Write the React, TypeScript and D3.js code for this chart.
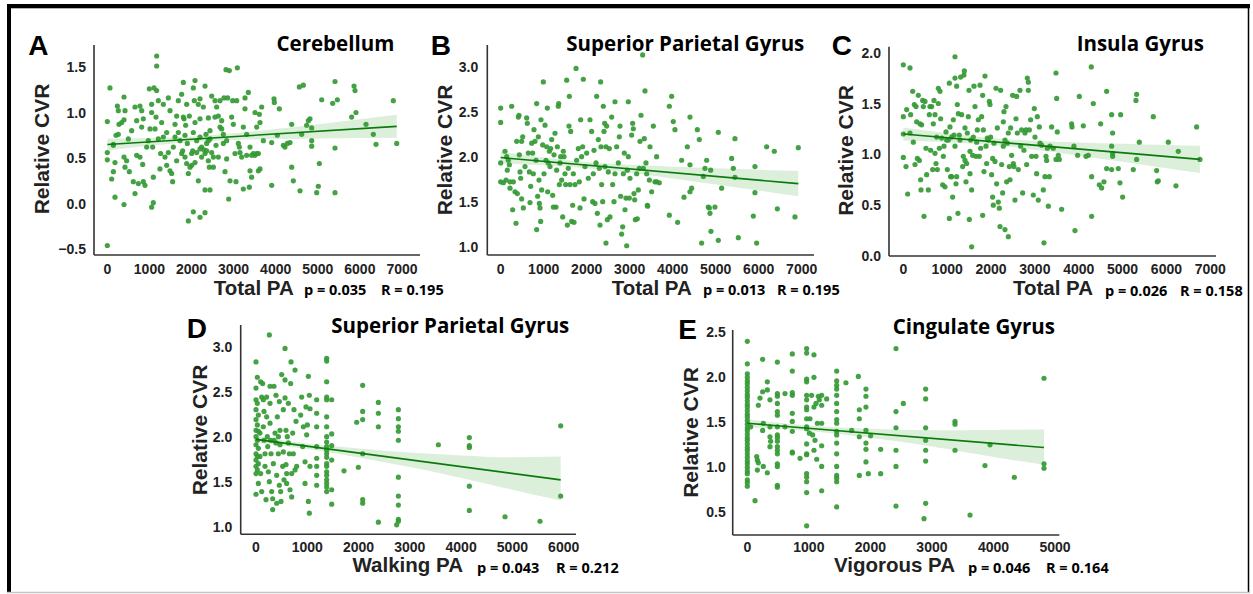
import React from 'react';
import * as d3 from 'd3';

type Pt = [number, number];
type Band = [number, number, number];

// ---------- data ----------
const ptsA: Pt[] = [
[0,-0.46],[63,1.27],[0,0.90],[0,0.56],[0,0.48],[143,0.65],[143,0.64],[103,0.27],[143,0.35],[182,0.07],[182,0.45],[206,0.75],[261,0.76],[238,1.07],[261,1.02],[277,0.87],[341,0.89],[396,1.17],[420,1.02],[396,0.92],[396,0.51],[420,0.40],[396,-0.01],[459,0.47],[499,0.71],[523,0.35],[578,0.80],[618,0.24],[657,0.11],[657,1.06],[697,0.91],[697,0.53],[737,0.22],[776,1.07],[776,0.51],[816,0.84],[816,1.02],[840,0.43],[855,0.24],[895,0.20],[855,0.93],[935,0.62],[974,0.69],[1014,0.82],[1053,1.00],[1053,1.09],[998,1.26],[1077,0.62],[1093,0.29],[1109,1.27],[1133,0.82],[1156,0.95],[1172,1.62],[1172,1.24],[1212,1.13],[1212,0.71],[1251,0.38],[1267,0.55],[1053,-0.04],[1093,0.01],[1291,0.89],[1331,1.09],[1331,0.73],[1370,0.51],[1172,1.51],[1410,0.78],[1410,0.42],[1449,0.56],[1449,1.16],[1489,1.02],[1489,0.36],[1529,0.33],[1552,0.24],[1568,0.62],[1608,0.87],[1608,0.73],[1647,0.96],[1647,0.47],[1687,0.78],[1687,1.13],[1727,0.69],[1766,0.55],[1790,0.58],[1806,1.33],[1845,0.75],[1861,0.86],[1885,1.09],[1901,0.66],[1925,0.33],[1948,0.96],[1964,0.40],[2004,0.55],[2028,0.58],[2043,0.78],[2067,1.13],[2083,0.89],[2123,0.69],[2162,0.25],[2202,0.73],[2202,0.93],[2241,0.51],[2281,1.06],[2321,1.29],[2344,0.76],[2360,0.66],[2400,0.47],[2400,0.94],[2424,0.40],[2439,0.80],[2479,1.18],[2519,0.51],[2558,0.95],[2582,0.64],[2637,0.51],[2677,1.13],[2717,0.82],[2756,0.66],[2796,0.35],[2835,0.69],[1766,1.20],[1925,-0.19],[2043,-0.09],[2202,-0.15],[2321,-0.10],[2321,0.15],[2439,0.15],[2043,1.27],[2083,1.35],[2162,1.09],[2202,1.15],[1806,0.95],[1822,0.93],[1845,0.51],[1885,0.44],[2004,0.42],[2083,0.45],[2123,0.56],[2202,0.60],[2241,0.62],[2297,0.59],[2321,0.55],[2360,0.58],[2400,0.69],[2439,0.71],[2479,0.56],[2519,0.40],[2558,1.13],[2598,1.06],[2637,0.96],[2677,0.84],[2717,0.91],[2756,0.76],[2772,1.16],[2820,1.47],[2899,1.46],[2835,0.49],[2859,1.16],[2883,0.05],[2915,0.25],[2954,0.95],[2978,1.13],[2994,0.87],[3033,0.55],[3057,0.24],[3073,1.13],[3089,1.49],[3113,0.66],[3136,0.62],[3152,0.56],[3192,0.51],[3231,0.84],[3271,1.04],[3271,1.16],[3311,0.53],[3311,0.76],[3231,0.16],[3374,0.18],[3390,0.62],[3429,0.53],[3469,0.55],[3509,0.53],[3548,0.55],[3588,0.55],[3548,0.84],[3350,1.22],[3390,0.36],[3429,0.29],[3509,1.00],[3612,0.98],[3627,0.89],[3667,1.06],[3588,0.36],[3627,0.38],[3707,0.69],[3905,0.20],[3905,0.67],[3960,1.15],[3968,1.11],[4039,0.75],[4087,1.04],[4182,0.64],[4221,0.62],[4277,0.66],[4340,0.67],[4380,0.87],[4380,0.40],[4419,0.25],[4562,1.28],[4657,1.30],[4578,0.14],[4617,0.76],[4736,0.86],[4776,0.91],[4815,0.93],[4855,0.83],[4855,0.69],[4855,0.63],[4974,0.12],[5013,0.19],[5037,0.44],[5093,1.14],[5354,1.10],[5409,1.34],[5465,1.14],[5409,0.61],[5409,0.12],[5805,0.95],[5861,1.29],[5885,1.24],[5908,1.00],[6146,0.87],[6320,0.76],[6384,0.65],[6795,1.13],[6875,0.66]
];

const ptsB: Pt[] = [
[0,2.54],[0,2.38],[0,1.93],[0,1.72],[62,1.71],[101,2.06],[124,1.74],[140,2.00],[155,1.85],[178,1.96],[202,1.91],[217,1.72],[217,1.65],[256,2.56],[279,1.41],[295,1.72],[333,1.61],[357,1.26],[372,2.17],[388,1.59],[411,2.44],[426,2.46],[434,2.02],[450,1.83],[465,1.76],[488,2.17],[488,1.53],[512,2.22],[527,1.43],[566,1.89],[605,2.43],[620,2.37],[643,2.04],[667,1.83],[682,1.49],[698,1.67],[721,2.15],[744,2.04],[760,1.81],[775,2.30],[798,2.17],[822,1.96],[837,2.59],[837,1.19],[860,1.56],[876,2.22],[891,1.74],[899,1.48],[915,1.43],[930,1.28],[938,2.41],[953,1.63],[977,2.13],[992,2.83],[1008,1.81],[1031,2.35],[1054,1.96],[1070,2.11],[1085,2.54],[1093,1.61],[1108,1.93],[1132,2.06],[1147,1.89],[1163,2.09],[1186,2.19],[1209,1.57],[1225,1.44],[1240,2.02],[1263,2.26],[1287,1.44],[1302,1.85],[1318,2.11],[1341,2.56],[1349,2.59],[1364,1.69],[1380,1.93],[1395,2.00],[1418,1.74],[1442,1.33],[1457,2.06],[1473,2.00],[1496,1.81],[1511,1.69],[1535,2.85],[1550,1.24],[1573,1.87],[1589,2.34],[1597,2.67],[1612,1.69],[1628,2.28],[1651,1.28],[1674,1.46],[1690,1.81],[1705,1.27],[1728,1.69],[1752,2.98],[1767,1.96],[1806,2.09],[1829,1.72],[1845,1.43],[1860,2.41],[1883,2.00],[1907,2.11],[1922,2.86],[1938,1.53],[1961,1.89],[2000,2.04],[2038,1.76],[2077,2.41],[2116,2.28],[2139,1.50],[2155,1.81],[2170,2.07],[2193,1.48],[2217,1.93],[2232,2.67],[2248,1.37],[2271,2.19],[2294,1.87],[2310,1.24],[2325,2.83],[2333,2.11],[2348,1.69],[2372,1.50],[2387,2.56],[2403,2.28],[2418,2.37],[2426,1.89],[2449,1.04],[2449,2.11],[2465,2.34],[2480,1.30],[2503,1.83],[2527,2.09],[2542,1.33],[2581,2.44],[2604,1.69],[2635,1.50],[2658,2.61],[2658,1.81],[2697,2.11],[2736,1.93],[2759,2.22],[2775,2.34],[2790,1.56],[2813,1.14],[2837,1.22],[2852,1.81],[2875,2.04],[2891,1.41],[2914,1.54],[2930,1.01],[2945,1.85],[2968,2.00],[2968,2.61],[2992,1.54],[3007,1.76],[3046,2.24],[3069,2.37],[3085,2.31],[3100,1.59],[3116,1.52],[3131,1.30],[3162,1.81],[3178,1.31],[3201,1.63],[3224,1.87],[3240,2.17],[3263,2.46],[3302,3.13],[3317,1.87],[3340,2.20],[3356,2.73],[3379,1.93],[3395,1.81],[3410,1.46],[3418,1.45],[3457,1.74],[3472,2.11],[3511,1.61],[3550,2.34],[3588,1.72],[3627,1.72],[3627,2.00],[3689,1.71],[3922,2.56],[3976,2.67],[4014,2.39],[4053,2.30],[3922,1.35],[4115,1.27],[4208,1.96],[4263,1.55],[4340,2.11],[4402,1.61],[4441,1.65],[4402,1.91],[4402,2.44],[4573,2.30],[4619,2.19],[4673,1.04],[4712,1.78],[4751,1.87],[4790,1.96],[4828,1.44],[4852,1.43],[4867,1.37],[4883,1.85],[4890,1.17],[4983,1.44],[5061,1.07],[5061,2.27],[5138,1.65],[5371,1.98],[5410,1.87],[5448,2.20],[5448,1.77],[5526,1.10],[5875,1.34],[5913,1.89],[5913,1.60],[5952,1.04],[6185,2.11],[6363,2.06],[6433,1.42],[6843,1.33],[6921,2.10]
];

const ptsC: Pt[] = [
[0,1.88],[0,1.37],[0,1.20],[0,0.97],[61,0.88],[76,1.44],[99,0.61],[152,1.85],[152,1.21],[167,1.39],[213,1.62],[228,1.12],[251,1.49],[266,0.90],[289,1.47],[304,1.32],[319,0.96],[342,1.58],[365,0.94],[380,1.30],[395,0.75],[403,0.65],[418,1.29],[441,1.53],[456,1.47],[471,0.39],[494,1.52],[517,1.06],[532,0.80],[570,0.65],[593,1.39],[608,1.47],[623,1.04],[646,1.47],[669,0.85],[684,1.30],[699,1.53],[722,1.01],[722,1.39],[745,0.91],[760,1.17],[775,0.85],[798,1.50],[798,1.65],[821,1.06],[836,1.62],[851,1.35],[874,1.16],[897,0.70],[912,0.98],[927,1.08],[950,0.68],[973,1.22],[988,1.14],[1003,0.85],[1026,1.14],[1049,0.37],[1049,1.70],[1064,1.27],[1079,0.78],[1102,0.78],[1102,1.17],[1125,0.58],[1140,1.34],[1155,1.19],[1178,1.96],[1178,1.75],[1178,1.08],[1201,0.71],[1216,1.67],[1216,0.78],[1231,1.49],[1246,0.42],[1254,1.40],[1277,1.19],[1292,1.14],[1307,1.76],[1330,1.39],[1353,0.88],[1368,0.98],[1383,1.78],[1391,1.82],[1406,1.26],[1406,0.94],[1429,0.73],[1444,0.91],[1459,1.21],[1482,1.37],[1497,1.63],[1505,0.36],[1520,1.03],[1520,0.81],[1535,1.14],[1558,0.09],[1558,0.65],[1581,0.99],[1596,1.17],[1611,1.67],[1634,1.47],[1657,0.98],[1672,1.12],[1687,1.24],[1710,1.34],[1733,0.98],[1748,1.68],[1763,1.06],[1786,1.37],[1809,0.40],[1809,1.58],[1824,1.24],[1839,0.83],[1862,1.77],[1885,1.08],[1900,0.91],[1915,1.16],[1938,1.14],[1961,1.52],[1976,1.49],[1991,1.17],[2014,0.80],[2037,0.96],[2037,0.58],[2052,0.50],[2067,1.11],[2090,0.93],[2113,1.65],[2128,0.71],[2143,1.26],[2166,0.53],[2189,0.47],[2204,0.29],[2219,1.63],[2242,0.90],[2265,0.62],[2280,1.32],[2280,1.08],[2295,1.42],[2318,0.26],[2318,1.14],[2341,1.47],[2356,0.73],[2371,1.11],[2394,0.19],[2394,1.21],[2417,0.88],[2432,0.75],[2447,1.26],[2470,0.99],[2493,1.58],[2508,0.91],[2523,0.88],[2546,0.55],[2569,1.35],[2584,1.57],[2599,1.21],[2622,0.85],[2660,1.63],[2675,1.08],[2698,1.24],[2721,0.62],[2751,1.04],[2774,1.21],[2797,1.24],[2812,0.90],[2827,1.75],[2850,1.63],[2850,1.71],[2873,1.24],[2903,1.34],[2926,0.98],[2964,0.60],[2987,1.45],[3002,1.17],[3025,0.98],[3040,0.81],[3055,1.37],[3078,0.55],[3101,1.27],[3116,1.11],[3154,1.09],[3192,0.65],[3207,0.13],[3230,0.78],[3253,0.98],[3268,0.94],[3283,1.06],[3306,0.49],[3329,0.78],[3344,1.08],[3382,1.27],[3420,1.06],[3481,1.80],[3481,0.95],[3496,1.55],[3511,1.22],[3534,0.99],[3557,0.95],[3610,0.46],[3838,1.30],[3846,1.27],[3891,1.08],[3914,0.25],[3975,0.99],[4013,1.57],[4104,1.28],[4165,0.98],[4218,0.99],[4286,1.86],[4294,0.39],[4294,0.78],[4332,1.50],[4469,0.70],[4499,1.30],[4522,0.67],[4575,0.73],[4636,1.62],[4636,0.86],[4750,0.85],[4750,1.39],[4773,1.21],[4750,1.08],[4773,1.01],[4773,0.98],[4902,0.86],[4940,0.72],[4955,1.39],[5001,0.58],[5244,0.85],[5305,1.53],[5320,1.59],[5320,0.95],[5381,1.12],[5700,1.37],[5776,0.84],[5791,0.73],[5814,0.74],[6042,1.12],[6217,0.69],[6270,1.03],[6688,1.27],[6764,0.95]
];

const ptsD: Pt[] = [
[0,2.83],[0,2.54],[26,2.66],[0,2.41],[26,2.37],[0,2.30],[46,2.24],[0,2.19],[26,2.13],[0,2.07],[46,2.06],[0,2.00],[26,1.96],[0,1.91],[46,1.87],[0,1.81],[26,1.78],[0,1.74],[46,1.70],[0,1.67],[26,1.63],[0,1.59],[0,1.36],[46,1.48],[91,2.61],[111,2.44],[78,2.04],[78,1.78],[91,1.59],[111,1.39],[130,2.59],[143,2.41],[156,2.28],[143,2.11],[156,1.96],[176,1.81],[176,1.67],[195,1.30],[208,2.44],[208,2.22],[221,2.00],[228,1.89],[241,1.61],[260,3.13],[260,1.50],[273,2.56],[273,2.37],[273,2.15],[286,1.96],[293,1.81],[306,1.39],[325,1.31],[325,1.19],[338,1.70],[351,1.96],[351,2.56],[371,2.04],[390,2.46],[390,1.93],[403,1.26],[403,1.57],[416,2.22],[436,2.00],[436,1.81],[455,2.39],[455,1.46],[468,2.07],[468,1.91],[481,1.39],[488,1.28],[501,2.69],[520,1.67],[533,2.30],[533,1.83],[546,1.52],[566,2.98],[566,2.63],[566,2.43],[585,2.07],[585,1.69],[598,1.59],[598,1.48],[611,2.00],[631,2.37],[631,1.93],[650,1.81],[663,1.41],[676,2.59],[683,2.83],[696,1.59],[696,1.33],[715,2.04],[728,1.81],[741,2.30],[761,2.74],[761,1.63],[780,2.17],[793,1.67],[871,2.24],[891,2.44],[910,1.89],[923,2.11],[956,1.72],[956,1.48],[975,2.33],[988,2.02],[1001,2.13],[1021,2.67],[1021,1.28],[1040,1.15],[1040,2.46],[1053,2.31],[1053,1.67],[1183,2.41],[1183,2.26],[1183,2.11],[1183,1.89],[1183,1.76],[1183,1.67],[1183,1.57],[1183,1.46],
[1378,2.87],[1378,2.84],[1378,2.61],[1378,2.44],[1378,2.41],[1378,2.22],[1378,2.11],[1378,2.00],[1378,1.94],[1378,1.89],[1378,1.85],[1378,1.81],[1378,1.77],[1378,1.70],[1378,1.67],[1378,1.61],[1378,1.57],[1378,1.52],[1378,1.48],[1378,1.44],[1378,1.39],
[1476,2.41],[1476,2.03],[1476,1.90],[1476,1.74],[1476,1.41],[1476,1.25],[1716,1.62],[1963,2.16],[1996,1.66],[2080,2.57],[2080,2.28],[2080,2.19],[2080,1.81],[2080,1.30],[2080,1.26],[2386,2.38],[2386,2.26],[2386,2.11],[2386,1.05],[2776,2.30],[2776,2.20],[2776,2.11],[2776,2.06],[2776,1.96],[2776,1.55],[2776,1.34],[2776,1.24],[2776,1.08],[2776,1.06],[2743,1.02],[3556,1.91],[4160,1.99],[4160,1.90],[4160,1.88],[4160,1.45],[4160,1.18],[4856,1.11],[5538,1.06],[5941,2.12],[5941,1.34]
];

const ptsE: Pt[] = [
[0,2.40],[0,2.15],[0,2.04],[0,2.00],[0,1.96],[0,1.93],[0,1.89],[0,1.85],[0,1.81],[0,1.78],[0,1.74],[0,1.70],[0,1.67],[0,1.63],[0,1.59],[0,1.56],[0,1.52],[0,1.48],[0,1.44],[0,1.41],[0,1.37],[0,1.33],[0,1.30],[0,1.26],[0,1.22],[0,1.19],[0,1.15],[0,1.11],[0,1.07],[0,1.04],[0,1.00],[0,0.96],[0,0.93],[0,0.86],[0,0.83],[0,0.79],
[54,1.45],[125,0.63],[152,1.12],[163,1.08],[179,1.05],[163,0.97],[179,1.69],[206,1.77],[249,2.20],[249,1.84],[260,1.49],[249,1.41],[260,1.01],[325,1.95],[325,1.86],[325,0.94],[368,1.75],[368,1.45],[368,1.34],[368,1.23],[379,1.29],
[488,2.17],[488,1.82],[488,1.79],[488,1.71],[488,1.62],[488,1.58],[488,1.45],[488,1.36],[488,1.33],[488,1.29],[488,1.23],[488,1.19],[488,1.15],[488,1.04],[488,1.01],[488,0.80],[488,0.78],
[612,1.82],[612,1.45],
[731,2.26],[731,2.07],[731,1.83],[731,1.80],[731,1.60],[731,1.51],[731,1.40],[731,1.17],[731,1.16],
[856,1.10],
[964,2.32],[964,2.27],[964,1.98],[964,1.95],[964,1.80],[964,1.75],[964,1.67],[964,1.64],[964,1.54],[964,1.45],[964,1.43],[964,1.26],[964,1.15],[964,1.14],[964,0.93],[964,0.89],[964,0.84],[964,0.72],[964,0.35],
[1008,1.38],[1018,1.54],[1045,1.80],[1062,1.36],[1083,2.25],[1083,2.00],[1083,1.67],[1083,1.19],[1100,1.30],[1116,1.71],[1127,1.09],[1138,1.49],[1154,1.79],[1170,1.75],
[1208,1.80],[1208,1.69],[1208,1.49],[1208,1.24],[1208,1.01],[1208,0.74],[1289,1.76],
[1452,2.07],[1452,1.96],[1452,1.91],[1452,1.87],[1452,1.80],[1452,1.71],[1452,1.62],[1452,1.53],[1452,1.49],[1452,1.40],[1452,1.36],[1452,1.27],[1452,1.15],[1452,1.01],[1452,0.91],[1452,0.88],[1452,0.84],[1452,0.56],
[1603,1.94],[1696,1.41],
[1804,2.01],[1820,1.64],[1820,1.54],[1820,1.34],[1820,0.91],
[1928,1.87],[1928,1.79],[1928,1.67],[1928,1.41],[1928,1.27],[1928,1.20],[1928,1.06],
[1966,0.93],[2004,1.35],[2167,1.20],[2167,0.93],
[2416,2.32],[2416,1.62],[2416,1.44],[2416,1.19],[2416,1.01],[2416,0.57],[2535,1.71],
[2898,1.87],[2898,1.76],[2898,1.44],[2898,1.30],[2898,1.19],[2898,1.07],[2898,0.60],[2871,0.43],
[3375,1.51],[3375,1.48],[3375,1.19],[3619,0.47],[3862,1.02],[3944,1.25],[4339,0.89],[4821,1.99],[4821,1.04],[4821,0.99]
];

// regression lines (endpoints) and confidence bands [x, lower, upper]
const fitA: Pt[] = [[0, 0.648], [6875, 0.848]];
const fitB: Pt[] = [[0, 1.99], [6921, 1.70]];
const fitC: Pt[] = [[0, 1.20], [6764, 0.95]];
const fitD: Pt[] = [[0, 1.97], [5941, 1.52]];
const fitE: Pt[] = [[0, 1.49], [4821, 1.22]];

const bandA: Band[] = [[0,0.583,0.713],[1000,0.634,0.720],[2000,0.676,0.736],[3000,0.699,0.772],[4000,0.708,0.820],[5000,0.714,0.872],[6000,0.719,0.926],[6875,0.722,0.974]];
const bandB: Band[] = [[0,1.925,2.055],[1000,1.904,1.992],[2000,1.871,1.941],[3000,1.821,1.909],[4000,1.758,1.888],[5000,1.692,1.870],[6000,1.624,1.854],[6921,1.56,1.84]];
const bandC: Band[] = [[0,1.135,1.265],[1000,1.119,1.207],[2000,1.091,1.161],[3000,1.045,1.133],[4000,0.987,1.117],[5000,0.926,1.104],[6000,0.864,1.092],[6764,0.816,1.084]];
const bandD: Band[] = [[0,1.93,2.01],[1000,1.864,1.924],[2000,1.769,1.869],[3000,1.663,1.823],[4000,1.542,1.792],[5000,1.411,1.771],[5941,1.29,1.78]];
const bandE: Band[] = [[0,1.445,1.535],[1000,1.404,1.464],[2000,1.328,1.428],[3000,1.232,1.412],[4000,1.116,1.416],[4821,1.03,1.42]];

const xTicksTotal = [0, 1000, 2000, 3000, 4000, 5000, 6000, 7000];
const xTicksWalking = [0, 1000, 2000, 3000, 4000, 5000, 6000];
const xTicksVigorous = [0, 1000, 2000, 3000, 4000, 5000];
const yTicksA = [-0.5, 0, 0.5, 1.0, 1.5];
const yTicksB = [1.0, 1.5, 2.0, 2.5, 3.0];
const yTicksC = [0, 0.5, 1.0, 1.5, 2.0];
const yTicksD = [1.0, 1.5, 2.0, 2.5, 3.0];
const yTicksE = [0.5, 1.0, 1.5, 2.0, 2.5];

const letters = ['A', 'B', 'C', 'D', 'E'];
const titles = ['Cerebellum', 'Superior Parietal Gyrus', 'Insula Gyrus', 'Superior Parietal Gyrus', 'Cingulate Gyrus'];
const xLabels = ['Total PA', 'Total PA', 'Total PA', 'Walking PA', 'Vigorous PA'];
const yLabel = 'Relative CVR';
const pTexts = ['p = 0.035', 'p = 0.013', 'p = 0.026', 'p = 0.043', 'p = 0.046'];
const rTexts = ['R = 0.195', 'R = 0.195', 'R = 0.158', 'R = 0.212', 'R = 0.164'];

// ---------- layout ----------
const layouts = [
  { axisX: 94, axisTop: 45, axisBottom: 255, axisRight: 420, xDom: [0, 7000], xRange: [107.33, 401.96], yDom: [-0.5, 1.5], yRange: [249.13, 66.93],
    letterX: 28.3, letterY: 55, titleX: 394.3, titleY: 50.7, yLabX: 49.3, yLabY: 149, xLabX: 253.7, xLabY: 294.5, pX: 304, rX: 381, pY: 295, tickY: 273.5, yTickX: 86 },
  { axisX: 487.3, axisTop: 45, axisBottom: 255, axisRight: 814, xDom: [0, 7000], xRange: [500.67, 801.7], yDom: [1, 3], yRange: [246.67, 66.67],
    letterX: 430.7, letterY: 55, titleX: 804.3, titleY: 50.7, yLabX: 451.7, yLabY: 150, xLabX: 651.7, xLabY: 294.5, pX: 703, rX: 777, pY: 295, tickY: 273.5, yTickX: 478.3 },
  { axisX: 889, axisTop: 46.7, axisBottom: 256, axisRight: 1216, xDom: [0, 7000], xRange: [903.33, 1210.3], yDom: [0, 2], yRange: [256, 52.67],
    letterX: 831.7, letterY: 55, titleX: 1204, titleY: 50.7, yLabX: 853.3, yLabY: 150.5, xLabX: 1053, xLabY: 295, pX: 1105, rX: 1180, pY: 295.5, tickY: 274, yTickX: 881 },
  { axisX: 240.7, axisTop: 325, axisBottom: 534.3, axisRight: 576, xDom: [0, 6000], xRange: [256, 563.7], yDom: [1, 3], yRange: [526.67, 346.67],
    letterX: 186.7, letterY: 338.3, titleX: 569.3, titleY: 333.3, yLabX: 206.7, yLabY: 430, xLabX: 407.7, xLabY: 571.5, pX: 477, rX: 556, pY: 572.5, tickY: 552, yTickX: 232.3 },
  { axisX: 732.7, axisTop: 330, axisBottom: 535, axisRight: 1059.3, xDom: [0, 5000], xRange: [747.33, 1055], yDom: [0.5, 2.5], yRange: [512.33, 332.33],
    letterX: 678.3, letterY: 339.3, titleX: 1055, titleY: 334, yLabX: 698.3, yLabY: 432.5, xLabX: 894.5, xLabY: 572, pX: 968, rX: 1046, pY: 572.5, tickY: 552, yTickX: 725.7 },
];

const panelData = [
  { pts: ptsA, fit: fitA, band: bandA, xTicks: xTicksTotal, yTicks: yTicksA },
  { pts: ptsB, fit: fitB, band: bandB, xTicks: xTicksTotal, yTicks: yTicksB },
  { pts: ptsC, fit: fitC, band: bandC, xTicks: xTicksTotal, yTicks: yTicksC },
  { pts: ptsD, fit: fitD, band: bandD, xTicks: xTicksWalking, yTicks: yTicksD },
  { pts: ptsE, fit: fitE, band: bandE, xTicks: xTicksVigorous, yTicks: yTicksE },
];

const ARIAL = '"Liberation Sans", Arial, Helvetica, sans-serif';
const OPEN = '"Open Sans", "Noto Sans", sans-serif';
const POINT = '#349a34';
const LINE = '#0b7a0b';
const AXIS = '#333333';
const TXT = '#222222';
const fmt = d3.format('.1f');

function Panel({ i }: { i: number }) {
  const L = layouts[i];
  const D = panelData[i];
  const x = d3.scaleLinear().domain(L.xDom).range(L.xRange);
  const y = d3.scaleLinear().domain(L.yDom).range(L.yRange);
  const area = d3.area<Band>().x(d => x(d[0])).y0(d => y(d[1])).y1(d => y(d[2])).curve(d3.curveMonotoneX);
  const line = d3.line<Pt>().x(d => x(d[0])).y(d => y(d[1]));
  return (
    <g>
      <path d={area(D.band) || ''} fill="#2ca02c" fillOpacity={0.17} />
      {D.pts.map((p, k) => (
        <circle key={k} cx={x(p[0])} cy={y(p[1])} r={2.6} fill={POINT} fillOpacity={0.92} />
      ))}
      <path d={line(D.fit) || ''} fill="none" stroke={LINE} strokeWidth={1.6} />
      <line x1={L.axisX} y1={L.axisTop} x2={L.axisX} y2={L.axisBottom} stroke={AXIS} strokeWidth={1.6} />
      <line x1={L.axisX} y1={L.axisBottom} x2={L.axisRight} y2={L.axisBottom} stroke={AXIS} strokeWidth={1.6} />
      {D.xTicks.map(t => (
        <text key={'x' + t} x={x(t)} y={L.tickY} textAnchor="middle" fontFamily={ARIAL} fontWeight="bold" fontSize={14} fill={TXT}>{t}</text>
      ))}
      {D.yTicks.map(t => (
        <text key={'y' + t} x={L.yTickX} y={y(t)} dy="0.36em" textAnchor="end" fontFamily={ARIAL} fontWeight="bold" fontSize={14} fill={TXT}>{fmt(t)}</text>
      ))}
      <text x={L.letterX} y={L.letterY} fontFamily={ARIAL} fontWeight="bold" fontSize={28} fill="#000">{letters[i]}</text>
      <text x={L.titleX} y={L.titleY} textAnchor="end" fontFamily={OPEN} fontWeight="bold" fontSize={20.5} fill="#000">{titles[i]}</text>
      <text transform={`translate(${L.yLabX},${L.yLabY}) rotate(-90)`} textAnchor="middle" fontFamily={ARIAL} fontWeight="bold" fontSize={21} fill={TXT}>{yLabel}</text>
      <text x={L.xLabX} y={L.xLabY} textAnchor="middle" fontFamily={ARIAL} fontWeight="bold" fontSize={20.5} fill={TXT}>{xLabels[i]}</text>
      <text x={L.pX} y={L.pY} fontFamily={OPEN} fontWeight="bold" fontSize={14.5} fill="#000">{pTexts[i]}</text>
      <text x={L.rX} y={L.pY} fontFamily={OPEN} fontWeight="bold" fontSize={14.5} fill="#000">{rTexts[i]}</text>
    </g>
  );
}

export default function App() {
  return (
    <svg width={1253} height={594} style={{ position: 'absolute', left: 0, top: 0, background: '#fff' }}>
      <rect x={0} y={0} width={1253} height={594} fill="#fff" />
      {layouts.map((_, i) => <Panel key={i} i={i} />)}
      <rect x={7} y={4} width={1243} height={4.3} fill="#000" />
      <rect x={7} y={4} width={4} height={588} fill="#000" />
      <line x1={1248.5} y1={4} x2={1248.5} y2={592} stroke="#000" strokeWidth={1.5} />
      <line x1={7} y1={592.5} x2={1250} y2={592.5} stroke="#c4c4c4" strokeWidth={1.5} />
    </svg>
  );
}
